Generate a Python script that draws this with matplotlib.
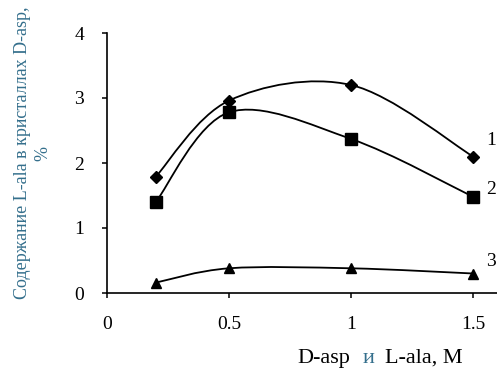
import numpy as np
import matplotlib
matplotlib.use('Agg')
import matplotlib.pyplot as plt
from matplotlib.path import Path
from matplotlib.patches import PathPatch

plt.rcParams['font.family'] = ['Liberation Serif', 'DejaVu Serif']

# data
conc = [0.2, 0.5, 1.0, 1.5]
curve1 = [1.79, 2.96, 3.20, 2.10]
curve2 = [1.40, 2.78, 2.37, 1.48]
curve3 = [0.16, 0.38, 0.38, 0.30]
curve_names = ['1', '2', '3']
name_pos = [(1.574, 2.35), (1.574, 1.59), (1.574, 0.48)]
xticks = [0, 0.5, 1, 1.5]
yticks = [0, 1, 2, 3, 4]

label_color = '#346f8c'


def smooth_path(x, y):
    # excel-like smoothed line: cubic bezier through the points
    pts = np.column_stack([x, y])
    n = len(pts)
    verts = [pts[0]]
    codes = [Path.MOVETO]
    for i in range(n - 1):
        p0 = pts[max(i - 1, 0)]
        p1 = pts[i]
        p2 = pts[i + 1]
        p3 = pts[min(i + 2, n - 1)]
        c1 = p1 + (p2 - p0) / 6.0
        c2 = p2 - (p3 - p1) / 6.0
        verts += [c1, c2, p2]
        codes += [Path.CURVE4] * 3
    return Path(verts, codes)


fig = plt.figure(figsize=(4.97, 3.69), dpi=100)
ax = fig.add_axes([107 / 497, 76 / 369, 390 / 497, 260 / 369])

series = [(curve1, 'D', 6.5), (curve2, 's', 8.5), (curve3, '^', 7.5)]
for vals, mk, ms in series:
    ax.add_patch(PathPatch(smooth_path(conc, vals), fill=False,
                           edgecolor='black', lw=1.3))
    ax.plot(conc, vals, linestyle='none', marker=mk, ms=ms, color='black')

for name, (tx, ty) in zip(curve_names, name_pos):
    ax.text(tx, ty, name, fontsize=14, ha='center', va='center')

ax.set_xlim(0, 1.598)
ax.set_ylim(0, 4)
ax.set_xticks(xticks)
ax.set_xticklabels(['0', '0.5', '1', '1.5'])
ax.set_yticks(yticks)
ax.spines['top'].set_visible(False)
ax.spines['right'].set_visible(False)
ax.spines['left'].set_linewidth(1.2)
ax.spines['bottom'].set_linewidth(1.2)
ax.tick_params(axis='both', direction='out', length=3.6, width=1.1,
               labelsize=14)
ax.tick_params(axis='y', pad=13)
ax.tick_params(axis='x', pad=13)

# y label, two lines, teal
fig.text(0.066, 0.585, 'Содержание L-ala в кристаллах D-asp,\n%',
         rotation=90, ha='center', va='center', multialignment='center',
         fontsize=13, color=label_color, linespacing=1.3)

# x label in three pieces (the conjunction is coloured)
fig.text(297 / 497, 6 / 369, 'D-asp', fontsize=16, va='baseline')
fig.text(363 / 497, 6 / 369, 'и', fontsize=16, va='baseline',
         color=label_color)
fig.text(385 / 497, 6 / 369, 'L-ala, M', fontsize=16, va='baseline')

fig.savefig('out.png', dpi=100)
